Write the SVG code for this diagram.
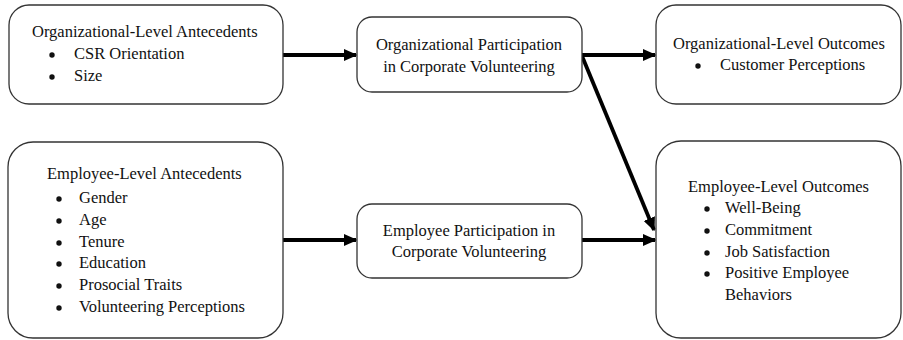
<svg xmlns="http://www.w3.org/2000/svg" width="903" height="340" viewBox="0 0 903 340">
  <defs>
    <marker id="arrow" viewBox="0 0 10 10" preserveAspectRatio="none" refX="9" refY="5" markerWidth="3.6" markerHeight="3.2" orient="auto" markerUnits="strokeWidth">
      <path d="M0,0 L10,5 L0,10 z" fill="#000"/>
    </marker>
  </defs>
  <style>
    .box { fill: #fff; stroke: #333; stroke-width: 1.3; }
    .t { font-family: "Liberation Serif", "Times New Roman", serif; font-size: 16.5px; fill: #111; }
    .c { text-anchor: middle; }
    .link { stroke: #000; stroke-width: 3.8; fill: none; marker-end: url(#arrow); }
    .dot { fill: #111; }
  </style>
  <rect width="903" height="340" fill="#fff"/>

  <g id="connectors">
    <line class="link" x1="283" y1="55" x2="356" y2="55"/>
    <line class="link" x1="582" y1="55" x2="655" y2="55"/>
    <line class="link" x1="582" y1="56" x2="654" y2="230"/>
    <line class="link" x1="283" y1="240" x2="356" y2="240"/>
    <line class="link" x1="582" y1="240" x2="655" y2="240"/>
  </g>

  <g id="org-antecedents">
    <rect class="box" x="9" y="5" width="274" height="99" rx="20"/>
    <text class="t" x="32" y="37">Organizational-Level Antecedents</text>
    <circle class="dot" cx="52" cy="55" r="2.7"/>
    <text class="t" x="74" y="59">CSR Orientation</text>
    <circle class="dot" cx="52" cy="77" r="2.7"/>
    <text class="t" x="74" y="81">Size</text>
  </g>

  <g id="org-participation">
    <rect class="box" x="357" y="17" width="225" height="75" rx="15"/>
    <text class="t c" x="469" y="50">Organizational Participation</text>
    <text class="t c" x="469" y="72">in Corporate Volunteering</text>
  </g>

  <g id="org-outcomes">
    <rect class="box" x="656" y="5" width="245" height="99" rx="20"/>
    <text class="t" x="673" y="49">Organizational-Level Outcomes</text>
    <circle class="dot" cx="698" cy="66" r="2.7"/>
    <text class="t" x="720" y="70">Customer Perceptions</text>
  </g>

  <g id="employee-antecedents">
    <rect class="box" x="8" y="142" width="275" height="196" rx="25"/>
    <text class="t" x="47" y="179">Employee-Level Antecedents</text>
    <circle class="dot" cx="59" cy="199" r="2.7"/>
    <text class="t" x="79" y="203">Gender</text>
    <circle class="dot" cx="59" cy="221" r="2.7"/>
    <text class="t" x="79" y="225">Age</text>
    <circle class="dot" cx="59" cy="243" r="2.7"/>
    <text class="t" x="79" y="247">Tenure</text>
    <circle class="dot" cx="59" cy="264" r="2.7"/>
    <text class="t" x="79" y="268">Education</text>
    <circle class="dot" cx="59" cy="286" r="2.7"/>
    <text class="t" x="79" y="290">Prosocial Traits</text>
    <circle class="dot" cx="59" cy="308" r="2.7"/>
    <text class="t" x="79" y="312">Volunteering Perceptions</text>
  </g>

  <g id="employee-participation">
    <rect class="box" x="357" y="204" width="225" height="74" rx="15"/>
    <text class="t c" x="469" y="236">Employee Participation in</text>
    <text class="t c" x="469" y="257">Corporate Volunteering</text>
  </g>

  <g id="employee-outcomes">
    <rect class="box" x="656" y="141" width="245" height="197" rx="25"/>
    <text class="t" x="688" y="192">Employee-Level Outcomes</text>
    <circle class="dot" cx="707" cy="209" r="2.7"/>
    <text class="t" x="725" y="213">Well-Being</text>
    <circle class="dot" cx="707" cy="231" r="2.7"/>
    <text class="t" x="725" y="235">Commitment</text>
    <circle class="dot" cx="707" cy="253" r="2.7"/>
    <text class="t" x="725" y="257">Job Satisfaction</text>
    <circle class="dot" cx="707" cy="274" r="2.7"/>
    <text class="t" x="725" y="278">Positive Employee</text>
    <text class="t" x="725" y="300">Behaviors</text>
  </g>
</svg>
